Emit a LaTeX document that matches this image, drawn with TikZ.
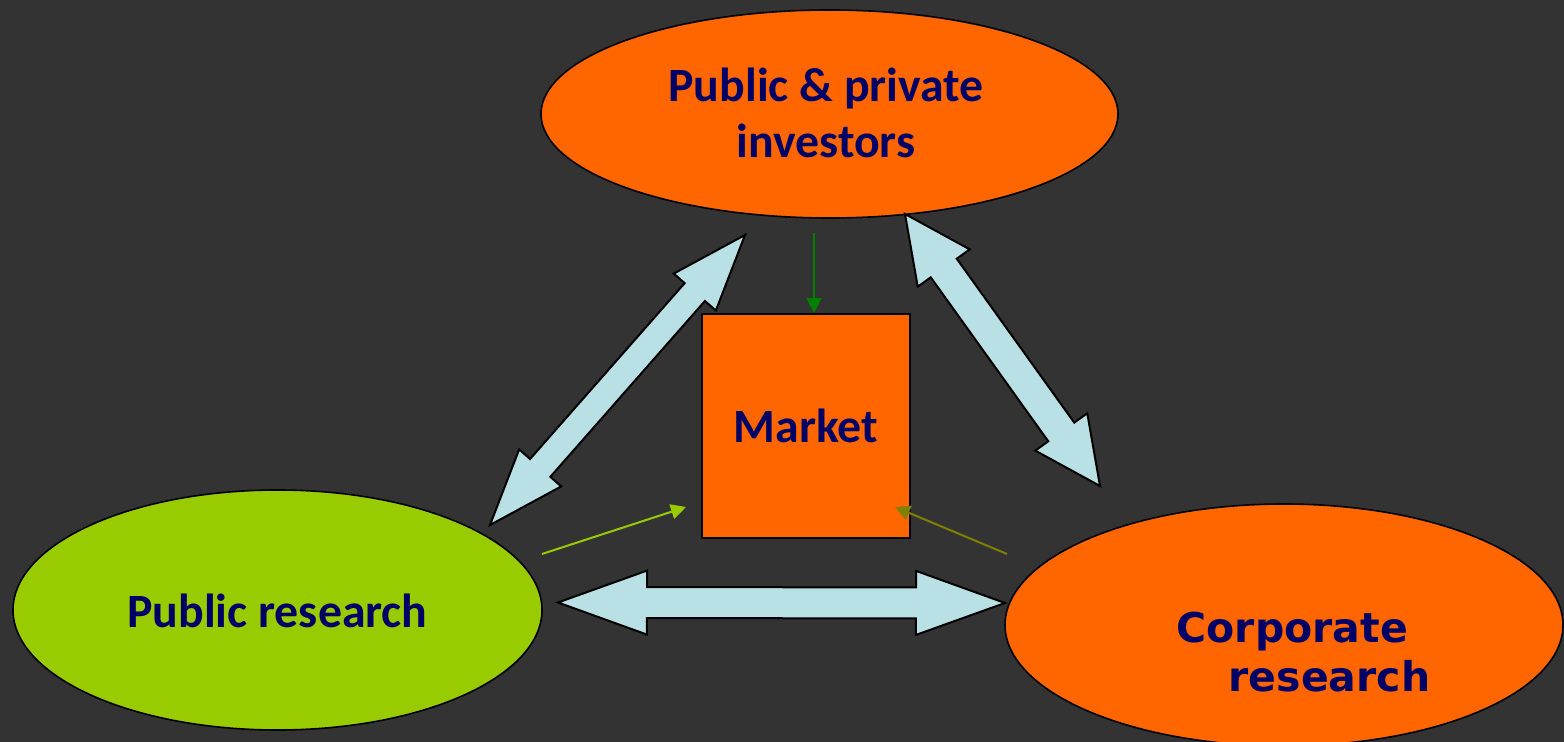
\documentclass[tikz,border=0pt]{standalone}
\usepackage{fontspec}
\setmainfont{Carlito}
\newfontfamily\verdfont{DejaVu Sans}
\usetikzlibrary{shapes.geometric,arrows.meta,calc}
\definecolor{bgc}{RGB}{51,51,51}
\definecolor{orng}{RGB}{255,102,0}
\definecolor{limec}{RGB}{153,204,0}
\definecolor{lblue}{RGB}{185,224,228}
\definecolor{txtnavy}{RGB}{0,0,102}
\definecolor{dgreen}{RGB}{0,128,0}
\definecolor{olivec}{RGB}{128,128,0}
% double block arrow between two named coordinates:
% #1,#2 tips; #3 shaft half width; #4 head half width; #5 head length
\newcommand\blockarrow[5]{%
  \coordinate (ba1) at ($(#1)!#5!(#2)$);
  \coordinate (ba2) at ($(#2)!#5!(#1)$);
  \draw[barrow] (#1) -- ($(ba1)!#4!90:(#2)$) -- ($(ba1)!#3!90:(#2)$)
    -- ($(ba2)!#3!-90:(#1)$) -- ($(ba2)!#4!-90:(#1)$) -- (#2)
    -- ($(ba2)!#4!90:(#1)$) -- ($(ba2)!#3!90:(#1)$)
    -- ($(ba1)!#3!-90:(#2)$) -- ($(ba1)!#4!-90:(#2)$) -- cycle;}
\begin{document}
\begin{tikzpicture}[x=0.5pt,y=-0.5pt,
  oval/.style={ellipse, draw=black, line width=0.8pt, inner sep=0pt},
  barrow/.style={fill=lblue, draw=black, line width=1pt, line join=miter},
  calfont/.style={font=\fontsize{23.9}{28}\selectfont\bfseries, text=txtnavy, inner sep=0pt},
  verfont/.style={font=\verdfont\fontsize{20.5}{24.5}\selectfont\bfseries, text=txtnavy, inner sep=0pt},
  thin/.style={line width=1pt, -{Triangle[length=7.5pt,width=7.5pt]}}]
\fill[bgc] (0,0) rectangle (1564,742);
\useasboundingbox (0,0) rectangle (1564,742);
\clip (0,0) rectangle (1564,742);

% shapes
\node[oval, fill=orng, minimum width=288.5pt, minimum height=104pt] (inv) at (829.5,114) {};
\node[oval, fill=limec, minimum width=264.5pt, minimum height=120pt] (pub) at (277.5,610) {};
\node[oval, fill=orng, minimum width=279pt, minimum height=121pt] (corp) at (1284,625) {};
\node[draw=black, line width=1pt, fill=orng, minimum width=104pt, minimum height=112pt, inner sep=0pt] (mkt) at (806,426) {};

% block arrows
\coordinate (a1s) at (745,235);
\coordinate (a1e) at (490,525);
\coordinate (a2s) at (905,214);
\coordinate (a2e) at (1100,486);
\coordinate (a3s) at (558,602.5);
\coordinate (a3e) at (1005,603);
\blockarrow{a1s}{a1e}{6.75pt}{14pt}{38pt}
\blockarrow{a2s}{a2e}{8pt}{16pt}{33.25pt}
\blockarrow{a3s}{a3e}{7.75pt}{16pt}{44.5pt}

% thin arrows
\coordinate (g0) at (814,233);
\draw[thin, dgreen] (g0) -- (g0 |- mkt.north);
\coordinate (y0) at (542,554);
\coordinate (y1) at (686,507);
\draw[thin, limec] (y0) -- (y1);
\coordinate (o0) at (1007,554);
\coordinate (o1) at (895,507);
\draw[thin, olivec] (o0) -- (o1);

% texts
\node[calfont, align=center] (invt) at (826,113) {Public \& private\\investors};
\node[calfont] (mktt) at (mkt.center) {Market};
\node[calfont] (pubt) at (277.5,610.5) {Public research};
\node[verfont, align=left] (corpt) at (1303.5,652.5) {Corporate\\\hspace*{26pt}research};
\end{tikzpicture}
\end{document}
